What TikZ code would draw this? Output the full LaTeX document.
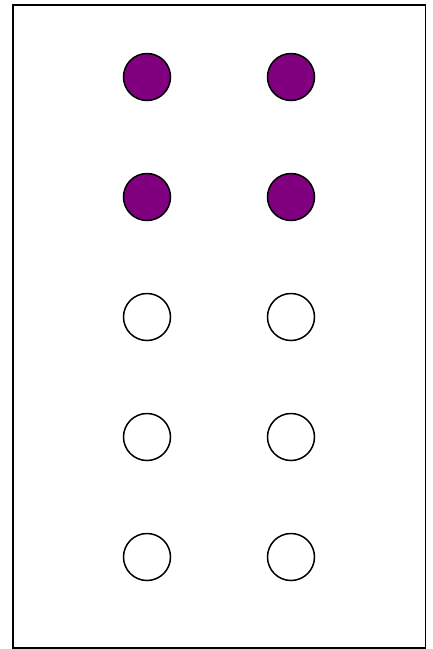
\documentclass[tikz,border=0pt]{standalone}
\begin{document}
\begin{tikzpicture}[x=1pt,y=-1pt,
  dot/.style={circle,draw=black,line width=1.5pt,minimum size=47pt,inner sep=0pt},
  on/.style={dot,fill={rgb,255:red,128;green,0;blue,128}},
  off/.style={dot,fill=white}]
\useasboundingbox (0,0) rectangle (432,649);
\draw[line width=1.8pt] (13,5) rectangle (425.5,648);
\node[on] (d1) at (147,77) {};
\node[on] (d4) at (291,77) {};
\node[on] (d2) at (147,197) {};
\node[on] (d5) at (291,197) {};
\node[off] (d3) at (147,317) {};
\node[off] (d6) at (291,317) {};
\node[off] (d7) at (147,437) {};
\node[off] (d8) at (291,437) {};
\node[off] (d9) at (147,557) {};
\node[off] (d10) at (291,557) {};
\end{tikzpicture}
\end{document}
